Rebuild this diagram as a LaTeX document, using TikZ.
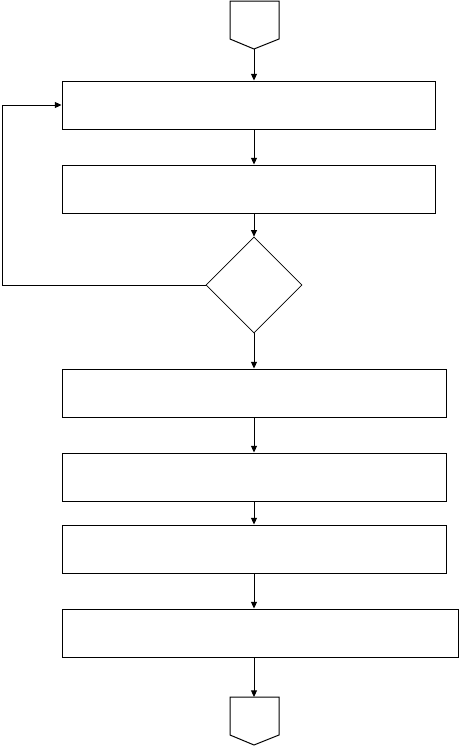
\documentclass[tikz,border=0pt]{standalone}
\usepackage{tikz}
\usetikzlibrary{shapes.geometric,arrows.meta}

\tikzset{
  box/.style={draw, line width=0.75pt, minimum height=36pt, inner sep=0pt},
  arr/.style={-{Triangle[length=5pt,width=4.5pt]}, line width=0.75pt}
}

\begin{document}
\begin{tikzpicture}[x=0.75pt, y=-0.75pt]
\useasboundingbox (0,0) rectangle (460,747);

% off-page connector, top
\draw[line width=0.75pt] (230,1) -- (279,1) -- (279,39) -- (254,49) -- (230,39) -- cycle;
\coordinate (in) at (254,49);

\node (b1) at (248.5,105) [box, minimum width=279.75pt]{};
\node (b2) at (248.5,189) [box, minimum width=279.75pt]{};
\node (dec) at (254,285) [diamond, draw, line width=0.5pt, inner sep=0pt, minimum width=72pt, minimum height=72pt]{};
\node (b3) at (254,393) [box, minimum width=288pt]{};
\node (b4) at (254,477) [box, minimum width=288pt]{};
\node (b5) at (254,549) [box, minimum width=288pt]{};
\node (b6) at (260,633) [box, minimum width=297pt]{};

% off-page connector, bottom
\draw[line width=0.75pt] (230,697) -- (279,697) -- (279,735) -- (254,745) -- (230,735) -- cycle;
\coordinate (out) at (254,697);

\draw[arr] (in) -- (b1.north -| in);
\draw[arr] (b1.south -| in) -- (b2.north -| in);
\draw[arr] (b2.south -| in) -- (dec.north);
\draw[arr] (dec.south) -- (b3.north -| in);
\draw[arr] (b3.south -| in) -- (b4.north -| in);
\draw[arr] (b4.south -| in) -- (b5.north -| in);
\draw[arr] (b5.south -| in) -- (b6.north -| in);
\draw[arr] (b6.south -| in) -- (out);

\coordinate (back) at (2.5,285);
\draw[arr] (dec.west) -- (back) |- (b1.west);
\end{tikzpicture}
\end{document}
